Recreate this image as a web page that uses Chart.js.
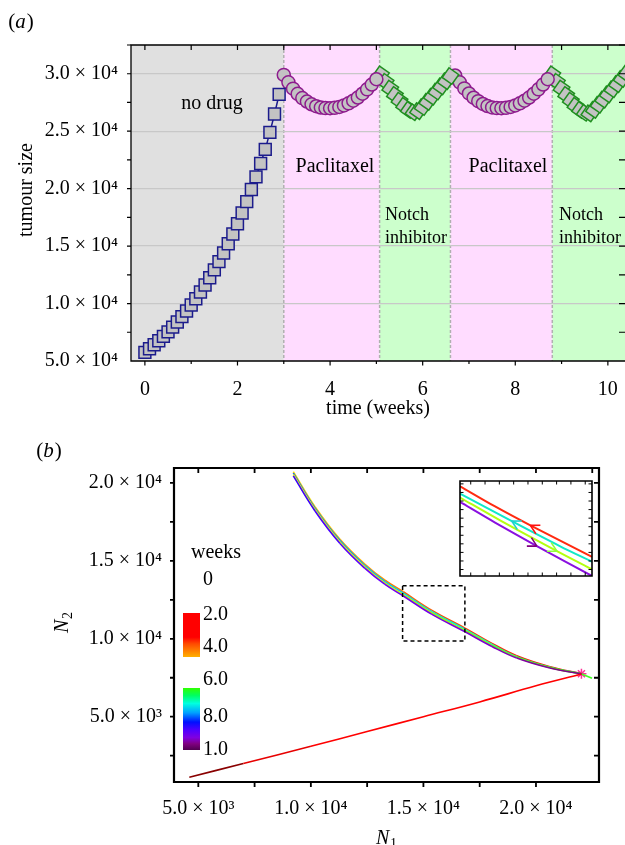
<!DOCTYPE html>
<html>
<head>
<meta charset="utf-8">
<script src="https://cdn.jsdelivr.net/npm/chart.js@4.4.1/dist/chart.umd.min.js"></script>
<style>
  html, body { margin: 0; padding: 0; background: #fff; }
  #wrap { position: relative; width: 625px; height: 845px; overflow: hidden; }
  canvas { position: absolute; }
  #cA { left: 0; top: 0; }
  #cB { left: 0; top: 430px; }
  #cC { left: 450px; top: 470px; }
</style>
</head>
<body>
<div id="wrap">
  <canvas id="cA" width="625" height="430"></canvas>
  <canvas id="cB" width="625" height="415"></canvas>
  <canvas id="cC" width="150" height="115"></canvas>
</div>
<script>
// ---- panel (a): tumour size vs time ----
const weeksNoDrug = [0, 0.1, 0.2, 0.3, 0.4, 0.5, 0.6, 0.7, 0.8, 0.9, 1.0, 1.1, 1.2, 1.3, 1.4, 1.5, 1.6, 1.7, 1.8, 1.9, 2.0, 2.1, 2.2, 2.3, 2.4, 2.5, 2.6, 2.7, 2.8, 2.9];
const sizeNoDrug = [5750, 6070, 6410, 6760, 7140, 7530, 7950, 8390, 8860, 9350, 9870, 10420, 11000, 11610, 12250, 12930, 13650, 14400, 15200, 16050, 16940, 17880, 18870, 19920, 21020, 22190, 23420, 24900, 26500, 28200];

const weeksPac1 = [3.0, 3.1, 3.2, 3.3, 3.4, 3.5, 3.6, 3.7, 3.8, 3.9, 4.0, 4.1, 4.2, 4.3, 4.4, 4.5, 4.6, 4.7, 4.8, 4.9, 5.0];
const sizePac1 = [29900, 29250, 28700, 28250, 27880, 27580, 27340, 27170, 27060, 27010, 27000, 27030, 27110, 27240, 27420, 27650, 27930, 28260, 28640, 29060, 29520];

const weeksNotch1 = [5.1, 5.2, 5.3, 5.4, 5.5, 5.6, 5.7, 5.8, 5.9, 6.0, 6.1, 6.2, 6.3, 6.4, 6.5, 6.6];
const sizeNotch1 = [29950, 29300, 28700, 28150, 27650, 27200, 26850, 26650, 26750, 27100, 27550, 28000, 28450, 28900, 29350, 29800];

const weeksPac2 = [6.7, 6.8, 6.9, 7.0, 7.1, 7.2, 7.3, 7.4, 7.5, 7.6, 7.7, 7.8, 7.9, 8.0, 8.1, 8.2, 8.3, 8.4, 8.5, 8.6, 8.7];
const sizePac2 = [29850, 29250, 28720, 28280, 27910, 27610, 27370, 27190, 27070, 27010, 27000, 27030, 27110, 27240, 27420, 27650, 27930, 28260, 28640, 29060, 29520];

const weeksNotch2 = [8.8, 8.9, 9.0, 9.1, 9.2, 9.3, 9.4, 9.5, 9.6, 9.7, 9.8, 9.9, 10.0, 10.1, 10.2, 10.3, 10.4];
const sizeNotch2 = [29950, 29300, 28700, 28150, 27650, 27200, 26850, 26600, 26550, 26850, 27300, 27750, 28200, 28650, 29100, 29550, 30000];

// treatment phases (weeks)
const phaseEdges = [3.0, 5.07, 6.6, 8.8];
const phaseKinds = ['none', 'pac', 'notch', 'pac', 'notch'];

const xTicksA = [0, 2, 4, 6, 8, 10];
const yTicksA = [5000, 10000, 15000, 20000, 25000, 30000];
const yTickLabelsA = ['5.0 × 10⁴', '1.0 × 10⁴', '1.5 × 10⁴', '2.0 × 10⁴', '2.5 × 10⁴', '3.0 × 10⁴'];

// ---- panel (b): phase plane N1 vs N2 ----
const noDrugN1 = [4600, 7000, 10000, 12500, 15000, 17500, 20000, 22020];
const noDrugN2 = [1110, 2000, 3100, 4050, 5000, 5950, 6980, 7740];

const bundleN1 = [9220, 10184, 11294, 12405, 13293, 14106, 15381, 16847, 18046, 19144, 20623, 22031];
const pac1N2 = [20722, 18475, 16388, 14784, 13756, 13018, 11821, 10687, 9705, 8914, 8210, 7758];
const pac2N2 = [20632, 18385, 16298, 14694, 13666, 12928, 11736, 10607, 9635, 8854, 8170, 7745];
const notch1N2 = [20542, 18295, 16208, 14604, 13576, 12838, 11651, 10527, 9575, 8814, 8150, 7740];
const notch2N2 = [20452, 18205, 16118, 14514, 13486, 12748, 11566, 10447, 9505, 8764, 8120, 7733];
const tailN1 = [22031, 22490];
const tailN2 = [7740, 7465];
const startN1 = [22020];
const startN2 = [7760];

const xTicksB = [5000, 10000, 15000, 20000];
const xTickLabelsB = ['5.0 × 10³', '1.0 × 10⁴', '1.5 × 10⁴', '2.0 × 10⁴'];
const yTicksB = [5000, 10000, 15000, 20000];
const yTickLabelsB = ['5.0 × 10³', '1.0 × 10⁴', '1.5 × 10⁴', '2.0 × 10⁴'];

const zoomBoxN1 = [14075, 16842];
const zoomBoxN2 = [9858, 13408];

// inset (zoom of the dashed box)
const insetRedN1 = [14075, 14800, 15550, 16842];
const insetRedN2 = [13211, 12466, 11750, 10577];
const insetCyanN1 = [14075, 15161, 16176, 16842];
const insetCyanN2 = [12939, 11907, 10968, 10391];
const insetLimeN1 = [14075, 14915, 16107, 16842];
const insetLimeN2 = [12790, 11937, 10789, 10108];
const insetPurpleN1 = [14075, 14810, 15686, 16842];
const insetPurpleN2 = [12626, 11855, 10976, 9858];
const insetXTicks = [14300, 14600, 14900, 15200, 15500, 15800, 16100, 16400, 16700];
const insetYTicks = [10100, 10420, 10740, 11060, 11380, 11700, 12020, 12340, 12660, 12980, 13300];

const colorbarLabels = ['0', '2.0', '4.0', '6.0', '8.0', '1.0'];

// ---- helpers ----
const SERIF = "'Liberation Serif', 'Times New Roman', serif";
Chart.defaults.font.family = SERIF;
Chart.defaults.color = '#000';

const pts = (xs, ys) => xs.map((x, i) => ({ x, y: ys[i] }));

function hexToRgb(h) { return [1, 3, 5].map(i => parseInt(h.slice(i, i + 2), 16)); }
function colorAt(stops, f) {
  for (let i = 1; i < stops.length; i++) {
    if (f <= stops[i][0]) {
      const [p0, c0] = stops[i - 1], [p1, c1] = stops[i];
      const t = (f - p0) / ((p1 - p0) || 1);
      const a = hexToRgb(c0), b = hexToRgb(c1);
      return 'rgb(' + a.map((v, k) => Math.round(v + (b[k] - v) * t)).join(',') + ')';
    }
  }
  return stops[stops.length - 1][1];
}
const gradSegment = (stops, n) => ({ borderColor: c => colorAt(stops, (c.p0DataIndex + 0.5) / (n - 1)) });

function text(ctx, str, x, y, size, opts = {}) {
  ctx.save();
  ctx.font = (opts.italic ? 'italic ' : '') + size + 'px ' + SERIF;
  ctx.fillStyle = '#000';
  ctx.textAlign = opts.align || 'center';
  ctx.textBaseline = 'middle';
  if (opts.rotate) { ctx.translate(x, y); ctx.rotate(opts.rotate); ctx.fillText(str, 0, 0); }
  else ctx.fillText(str, x, y);
  ctx.restore();
}

function panelLabel(ctx, letter, cx, cy) {
  const up = '21px ' + SERIF, it = 'italic 21px ' + SERIF;
  ctx.save();
  ctx.textBaseline = 'middle';
  ctx.fillStyle = '#000';
  ctx.font = up; const wp = ctx.measureText('(').width;
  ctx.font = it; const wl = ctx.measureText(letter).width;
  let x = cx - (2 * wp + wl + 1) / 2;
  ctx.font = up; ctx.fillText('(', x, cy); x += wp;
  ctx.font = it; ctx.fillText(letter, x, cy); x += wl + 1;
  ctx.font = up; ctx.fillText(')', x, cy);
  ctx.restore();
}

function framePlugin(cfg) {
  return {
    id: 'frame',
    afterDraw(chart) {
      const { ctx, chartArea: a, scales } = chart;
      ctx.save();
      ctx.strokeStyle = '#000';
      ctx.lineWidth = cfg.width;
      ctx.beginPath();
      if (cfg.sides.includes('left')) { ctx.moveTo(a.left, a.top); ctx.lineTo(a.left, a.bottom); }
      if (cfg.sides.includes('right')) { ctx.moveTo(a.right, a.top); ctx.lineTo(a.right, a.bottom); }
      if (cfg.sides.includes('top')) { ctx.moveTo(a.left - cfg.width / 2, a.top); ctx.lineTo(a.right + cfg.width / 2, a.top); }
      if (cfg.sides.includes('bottom')) { ctx.moveTo(a.left - cfg.width / 2, a.bottom); ctx.lineTo(a.right + cfg.width / 2, a.bottom); }
      ctx.stroke();
      ctx.lineWidth = cfg.tickWidth;
      ctx.beginPath();
      cfg.ticks.forEach(t => {
        const s = scales[t.axis];
        const d = t.out ? 1 : -1;
        t.values.forEach(v => {
          const p = s.getPixelForValue(v);
          if (t.side === 'bottom') { ctx.moveTo(p, a.bottom); ctx.lineTo(p, a.bottom + d * t.len); }
          if (t.side === 'top') { ctx.moveTo(p, a.top); ctx.lineTo(p, a.top - d * t.len); }
          if (t.side === 'left') { ctx.moveTo(a.left, p); ctx.lineTo(a.left - d * t.len, p); }
          if (t.side === 'right') { ctx.moveTo(a.right, p); ctx.lineTo(a.right + d * t.len, p); }
        });
      });
      ctx.stroke();
      ctx.restore();
    }
  };
}

// ---- panel (a) ----
const bandColors = { none: '#e0e0e0', pac: '#ffdcff', notch: '#ccffcc' };

const bandsPlugin = {
  id: 'bands',
  beforeDraw(chart) {
    const { ctx, chartArea: a, scales: { x } } = chart;
    const edges = [x.min, ...phaseEdges, x.max];
    ctx.save();
    phaseKinds.forEach((k, i) => {
      const x0 = x.getPixelForValue(edges[i]), x1 = x.getPixelForValue(edges[i + 1]);
      ctx.fillStyle = bandColors[k];
      ctx.fillRect(x0, a.top, x1 - x0, a.bottom - a.top);
    });
    ctx.strokeStyle = '#b0b0b0';
    ctx.lineWidth = 1.5;
    ctx.setLineDash([3, 2]);
    phaseEdges.forEach(e => {
      const px = x.getPixelForValue(e);
      ctx.beginPath(); ctx.moveTo(px, a.top); ctx.lineTo(px, a.bottom); ctx.stroke();
    });
    ctx.restore();
  }
};

const textA = {
  id: 'textA',
  afterDraw(chart) {
    const ctx = chart.ctx;
    panelLabel(ctx, 'a', 21, 22);
    text(ctx, 'no drug', 212, 104, 20);
    text(ctx, 'Paclitaxel', 335, 167, 20);
    text(ctx, 'Paclitaxel', 508, 167, 20);
    text(ctx, 'Notch', 385, 215, 18, { align: 'left' });
    text(ctx, 'inhibitor', 385, 238, 18, { align: 'left' });
    text(ctx, 'Notch', 559, 215, 18, { align: 'left' });
    text(ctx, 'inhibitor', 559, 238, 18, { align: 'left' });
    text(ctx, 'tumour size', 27, 190, 20, { rotate: -Math.PI / 2 });
    text(ctx, 'time (weeks)', 378, 409, 20);
  }
};

const MARK_FILL = '#c3c3c3';
const markerSet = (xs, ys, color, style, r, rot) => ({
  data: pts(xs, ys), showLine: true, borderColor: color, borderWidth: 1.5,
  pointStyle: style, pointRadius: r, pointRotation: rot || 0,
  pointBackgroundColor: MARK_FILL, pointBorderColor: color, pointBorderWidth: 1.5
});

new Chart(document.getElementById('cA'), {
  type: 'scatter',
  data: {
    datasets: [
      markerSet(weeksNoDrug, sizeNoDrug, '#1c1c8c', 'rect', 8.4),
      markerSet(weeksPac1, sizePac1, '#8e1b8e', 'circle', 6.5),
      markerSet(weeksNotch1, sizeNotch1, '#1f8f1f', 'rect', 8.4, 35),
      markerSet(weeksPac2, sizePac2, '#8e1b8e', 'circle', 6.5),
      markerSet(weeksNotch2, sizeNotch2, '#1f8f1f', 'rect', 8.4, 35)
    ]
  },
  options: {
    responsive: false, animation: false, devicePixelRatio: 1, events: [],
    layout: { autoPadding: false, padding: { left: 0, right: 0, top: 45, bottom: 0 } },
    plugins: { legend: { display: false }, tooltip: { enabled: false } },
    scales: {
      x: {
        type: 'linear', min: -0.3, max: 10.37,
        afterFit: s => { s.height = 69; s.paddingLeft = 0; s.paddingRight = 0; },
        afterBuildTicks: s => { s.ticks = xTicksA.map(v => ({ value: v })); },
        ticks: { font: { size: 20 }, padding: 17, autoSkip: false, maxRotation: 0, callback: v => String(v) },
        grid: { display: false, drawTicks: false }, border: { display: false }
      },
      y: {
        type: 'linear', min: 5000, max: 32500,
        afterFit: s => { s.width = 131; s.paddingTop = 0; s.paddingBottom = 0; },
        afterBuildTicks: s => { s.ticks = yTicksA.map(v => ({ value: v })); },
        ticks: { font: { size: 20 }, padding: 13, autoSkip: false, callback: v => yTickLabelsA[yTicksA.indexOf(v)] },
        grid: { color: c => (c.tick && c.tick.value === 5000) ? 'rgba(0,0,0,0)' : '#c8c8c8', lineWidth: 1.2, drawTicks: false },
        border: { display: false }
      }
    }
  },
  plugins: [bandsPlugin, framePlugin({
    width: 1.3, tickWidth: 1.2, sides: ['left', 'top', 'bottom'],
    ticks: [
      { axis: 'x', side: 'bottom', out: true, len: 4.5, values: [0, 2, 4, 6, 8, 10] },
      { axis: 'x', side: 'bottom', out: true, len: 3, values: [1, 3, 5, 7, 9] },
      { axis: 'x', side: 'top', out: false, len: 5, values: [0, 1, 2, 3, 4, 5, 6, 7, 8, 9, 10] },
      { axis: 'y', side: 'left', out: true, len: 4, values: [7500, 10000, 12500, 15000, 17500, 20000, 22500, 25000, 27500, 30000, 32500] },
      { axis: 'y', side: 'right', out: false, len: 6, values: [7500, 10000, 12500, 15000, 17500, 20000, 22500, 25000, 27500, 30000, 32500] }
    ]
  }), textA]
});

// ---- panel (b) ----
const pac1Colors = [[0, '#ffee00'], [0.3, '#ffa000'], [0.55, '#ff5000'], [1, '#ff0000']];
const notch1Colors = [[0, '#ffff00'], [0.4, '#c8ff00'], [1, '#50ff00']];
const pac2Colors = [[0, '#0050ff'], [0.4, '#00c0ff'], [0.7, '#00ffd0'], [1, '#00ff60']];
const notch2Colors = [[0, '#3000ff'], [0.3, '#6a00ff'], [0.7, '#8000d0'], [1, '#800080']];
const noDrugColors = [[0, '#5a0000'], [0.25, '#ff0000'], [1, '#ff0000']];

const curve = (xs, ys, stops) => ({
  data: pts(xs, ys), borderWidth: 1.6, pointRadius: 0, tension: 0.4,
  borderColor: stops[stops.length - 1][1], segment: gradSegment(stops, xs.length)
});

const decorB = {
  id: 'decorB',
  afterDraw(chart) {
    const { ctx, scales: { x, y } } = chart;
    // dashed zoom box
    ctx.save();
    ctx.strokeStyle = '#000';
    ctx.lineWidth = 1.5;
    ctx.setLineDash([4, 3]);
    const bx0 = x.getPixelForValue(zoomBoxN1[0]), bx1 = x.getPixelForValue(zoomBoxN1[1]);
    const by0 = y.getPixelForValue(zoomBoxN2[1]), by1 = y.getPixelForValue(zoomBoxN2[0]);
    ctx.strokeRect(bx0, by0, bx1 - bx0, by1 - by0);
    ctx.restore();

    // colour bars
    ctx.save();
    let g = ctx.createLinearGradient(0, 183, 0, 227);
    g.addColorStop(0, '#ff0000'); g.addColorStop(0.55, '#ff0000');
    g.addColorStop(0.7, '#ff4a00'); g.addColorStop(1, '#ffb000');
    ctx.fillStyle = g;
    ctx.fillRect(183, 183, 17, 44);
    g = ctx.createLinearGradient(0, 258, 0, 320);
    [[0, '#30ff00'], [0.12, '#00ff60'], [0.25, '#00ffe0'], [0.4, '#00a0ff'], [0.55, '#0010ff'],
     [0.68, '#5000ff'], [0.8, '#8000e0'], [0.9, '#800080'], [1, '#500050']].forEach(s => g.addColorStop(s[0], s[1]));
    ctx.fillStyle = g;
    ctx.fillRect(183, 258, 17, 62);
    ctx.restore();

    text(ctx, 'weeks', 216, 123, 20);
    const labY = [150, 185, 216.5, 250, 286.5, 320];
    colorbarLabels.forEach((l, i) => text(ctx, l, 203, labY[i], 20, { align: 'left' }));

    panelLabel(ctx, 'b', 49, 21);
    // axis titles N1, N2
    ctx.save();
    ctx.fillStyle = '#000';
    ctx.textBaseline = 'alphabetic';
    ctx.font = 'italic 20px ' + SERIF;
    ctx.fillText('N', 376, 414);
    ctx.font = '14px ' + SERIF;
    ctx.fillText('1', 390, 418);
    ctx.translate(68, 193);
    ctx.rotate(-Math.PI / 2);
    ctx.font = 'italic 20px ' + SERIF;
    ctx.fillText('N', -10, 0);
    ctx.font = '14px ' + SERIF;
    ctx.fillText('2', 4, 4);
    ctx.restore();
  }
};

new Chart(document.getElementById('cB'), {
  type: 'line',
  data: {
    datasets: [
      curve(noDrugN1, noDrugN2, noDrugColors),
      curve(bundleN1, notch2N2, notch2Colors),
      curve(bundleN1, notch1N2, notch1Colors),
      curve(bundleN1, pac2N2, pac2Colors),
      curve(bundleN1, pac1N2, pac1Colors),
      { data: pts(tailN1, tailN2), borderColor: '#40ff20', borderWidth: 1.6, pointRadius: 0 },
      { data: pts(startN1, startN2), showLine: false, pointStyle: 'star', pointRadius: 5, pointBorderColor: '#ff3399', pointBorderWidth: 1.5 }
    ]
  },
  options: {
    responsive: false, animation: false, devicePixelRatio: 1, events: [],
    layout: { autoPadding: false, padding: { left: 0, right: 26, top: 38, bottom: 0 } },
    plugins: { legend: { display: false }, tooltip: { enabled: false } },
    scales: {
      x: {
        type: 'linear', min: 3920, max: 22800,
        afterFit: s => { s.height = 63; s.paddingLeft = 0; s.paddingRight = 0; },
        afterBuildTicks: s => { s.ticks = xTicksB.map(v => ({ value: v })); },
        ticks: { font: { size: 20 }, padding: 15, autoSkip: false, maxRotation: 0, callback: v => xTickLabelsB[xTicksB.indexOf(v)] },
        grid: { display: false, drawTicks: false }, border: { display: false }
      },
      y: {
        type: 'linear', min: 810, max: 20960,
        afterFit: s => { s.width = 174; s.paddingTop = 0; s.paddingBottom = 0; },
        afterBuildTicks: s => { s.ticks = yTicksB.map(v => ({ value: v })); },
        ticks: { font: { size: 20 }, padding: 12, autoSkip: false, callback: v => yTickLabelsB[yTicksB.indexOf(v)] },
        grid: { display: false, drawTicks: false }, border: { display: false }
      }
    }
  },
  plugins: [framePlugin({
    width: 2.2, tickWidth: 1.8, sides: ['left', 'right', 'top', 'bottom'],
    ticks: [
      { axis: 'x', side: 'bottom', out: true, len: 5, values: [5000, 7500, 10000, 12500, 15000, 17500, 20000] },
      { axis: 'x', side: 'top', out: false, len: 5, values: [5000, 7500, 10000, 12500, 15000, 17500, 20000, 22500] },
      { axis: 'y', side: 'left', out: true, len: 4, values: [2500, 5000, 7500, 10000, 12500, 15000, 17500, 20000] },
      { axis: 'y', side: 'right', out: false, len: 5, values: [2500, 5000, 7500, 10000, 12500, 15000, 17500, 20000] }
    ]
  }), decorB]
});

// ---- inset ----
// arrowheads point from the point `at` toward the point `toward`
const insetArrows = [
  { ds: 0, at: 2, toward: 1, color: '#ff1010' },
  { ds: 1, at: 1, toward: 0, color: '#20d0d0' },
  { ds: 2, at: 2, toward: 3, color: '#90ff40' },
  { ds: 3, at: 2, toward: 3, color: '#800080' }
];

const insetDecor = {
  id: 'insetDecor',
  beforeDraw(chart) {
    const { ctx, chartArea: a } = chart;
    ctx.save();
    ctx.fillStyle = '#fff';
    ctx.fillRect(a.left, a.top, a.right - a.left, a.bottom - a.top);
    ctx.restore();
  },
  afterDatasetsDraw(chart) {
    const ctx = chart.ctx;
    insetArrows.forEach(ar => {
      const d = chart.getDatasetMeta(ar.ds).data;
      const tip = d[ar.at], ref = d[ar.toward];
      const ang = Math.atan2(ref.y - tip.y, ref.x - tip.x);
      ctx.save();
      ctx.strokeStyle = ar.color;
      ctx.lineWidth = 1.6;
      ctx.beginPath();
      [0.5, -0.5].forEach(o => {
        ctx.moveTo(tip.x, tip.y);
        ctx.lineTo(tip.x - 10 * Math.cos(ang + o), tip.y - 10 * Math.sin(ang + o));
      });
      ctx.stroke();
      ctx.restore();
    });
  }
};

const insetLine = (xs, ys, color) => ({ data: pts(xs, ys), borderColor: color, borderWidth: 2, pointRadius: 0, tension: 0.3 });

new Chart(document.getElementById('cC'), {
  type: 'line',
  data: {
    datasets: [
      insetLine(insetRedN1, insetRedN2, '#ff2a10'),
      insetLine(insetCyanN1, insetCyanN2, '#10e8c8'),
      insetLine(insetLimeN1, insetLimeN2, '#b4ff10'),
      insetLine(insetPurpleN1, insetPurpleN2, '#8a10e0')
    ]
  },
  options: {
    responsive: false, animation: false, devicePixelRatio: 1, events: [],
    layout: { autoPadding: false, padding: { left: 10, right: 8, top: 11, bottom: 9 } },
    plugins: { legend: { display: false }, tooltip: { enabled: false } },
    scales: {
      x: { type: 'linear', display: false, min: zoomBoxN1[0], max: zoomBoxN1[1] },
      y: { type: 'linear', display: false, min: zoomBoxN2[0], max: zoomBoxN2[1] }
    }
  },
  plugins: [insetDecor, framePlugin({
    width: 1.6, tickWidth: 1, sides: ['left', 'right', 'top', 'bottom'],
    ticks: [
      { axis: 'x', side: 'bottom', out: false, len: 3.5, values: insetXTicks },
      { axis: 'x', side: 'top', out: false, len: 3.5, values: insetXTicks },
      { axis: 'y', side: 'left', out: false, len: 3.5, values: insetYTicks },
      { axis: 'y', side: 'right', out: false, len: 3.5, values: insetYTicks }
    ]
  })]
});
</script>
</body>
</html>
